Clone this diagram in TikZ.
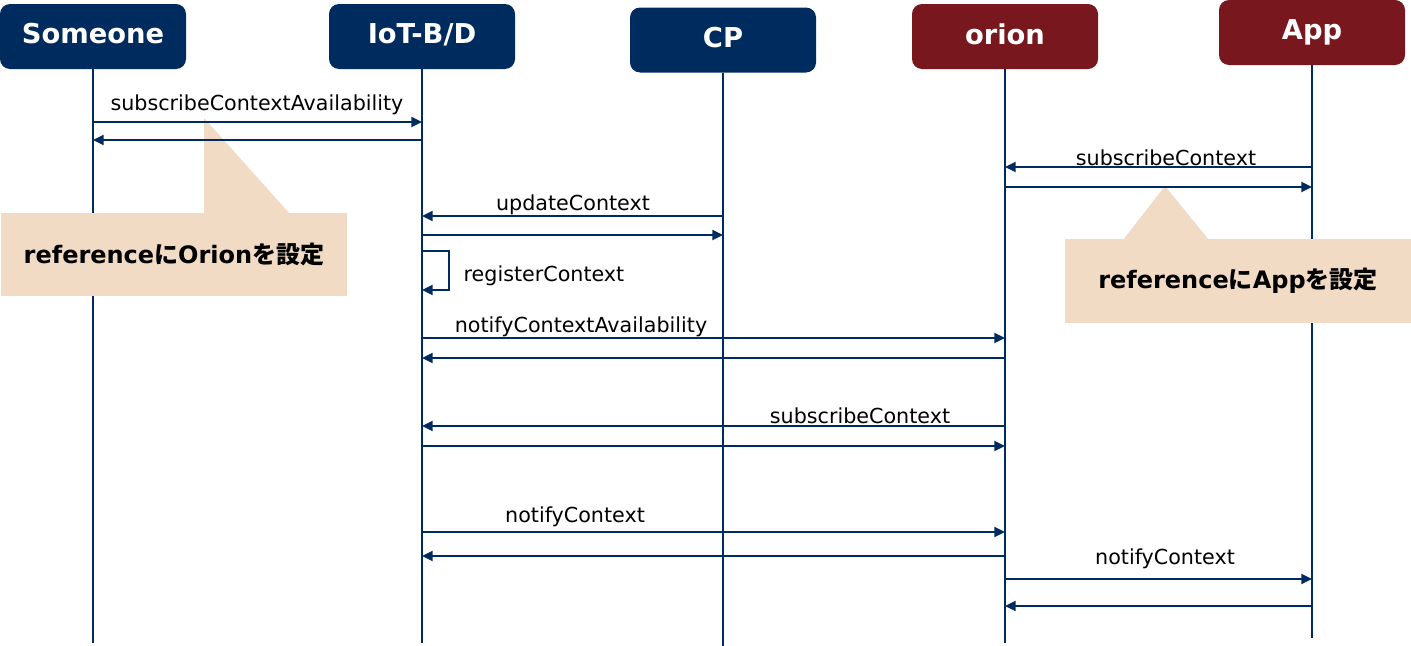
\documentclass[tikz,border=0pt]{standalone}
\usepackage{fontspec}
\setmainfont{DejaVu Sans}
\newfontfamily\jafont{Noto Sans CJK JP}
\usetikzlibrary{arrows.meta}

\definecolor{navy}{RGB}{0,43,94}
\definecolor{wine}{RGB}{120,23,29}
\definecolor{note}{RGB}{241,219,196}

\tikzset{
  actor/.style={rounded corners=7.5pt, minimum width=139.5pt, minimum height=48.75pt,
    inner sep=0pt, text depth=4pt, text=white, font=\bfseries\fontsize{20.5}{24}\selectfont},
  life/.style={draw=navy, line width=1.5pt},
  msg/.style={draw=navy, line width=1.5pt, -{Triangle[length=8pt,width=7.5pt]}},
  lbl/.style={inner sep=0pt, text=black, font=\fontsize{15.5}{18}\selectfont},
  memo/.style={fill=note, minimum width=259.5pt, minimum height=62.5pt, inner sep=0pt,
    font=\bfseries\fontsize{18}{21}\selectfont}
}

\begin{document}
\begin{tikzpicture}[x=0.75pt,y=0.75pt,yscale=-1,xscale=1]
\useasboundingbox (0,0) rectangle (1411,646);

%Actors
\node [actor, fill=navy] (someone) at (93,36.5) {Someone};
\node [actor, fill=navy] (iot) at (422,36.5) {IoT-B/D};
\node [actor, fill=navy] (cp) at (723,40) {CP};
\node [actor, fill=wine] (orion) at (1005,36.5) {orion};
\node [actor, fill=wine] (app) at (1312,32.5) {App};

%Lifelines
\coordinate (someoneEnd) at (93,643);
\coordinate (iotEnd) at (422,643);
\coordinate (cpEnd) at (723,646);
\coordinate (orionEnd) at (1005,643);
\coordinate (appEnd) at (1312,638);
\draw [life] (someone) -- (someoneEnd);
\draw [life] (iot) -- (iotEnd);
\draw [life] (cp) -- (cpEnd);
\draw [life] (orion) -- (orionEnd);
\draw [life] (app) -- (appEnd);

%Callouts
\fill [note] (204,118) -- (204,214) -- (290,214) -- cycle;
\node [memo] (memoOrion) at (174,254.5) {\raisebox{2pt}{reference{\jafont に}Orion{\jafont を設定}}};
\fill [note] (1165,186) -- (1123,240) -- (1209,240) -- cycle;
\node [memo] (memoApp) at (1238,281) {\raisebox{2pt}{reference{\jafont に}App{\jafont を設定}}};

%Messages
\draw [msg] (someone |- 0,122) -- (iot |- 0,122);
\node [lbl] (m1) at (257,105) {subscribeContextAvailability};
\draw [msg] (iot |- 0,140) -- (someone |- 0,140);

\draw [msg] (app |- 0,167) -- (orion |- 0,167);
\node [lbl] (m2) at (1166,158) {subscribeContext};
\draw [msg] (orion |- 0,187) -- (app |- 0,187);

\draw [msg] (cp |- 0,216) -- (iot |- 0,216);
\node [lbl] (m3) at (573,205) {updateContext};
\draw [msg] (iot |- 0,235) -- (cp |- 0,235);

\draw [msg] (iot |- 0,251) -- ++(27,0) -- ++(0,39) -- (iot |- 0,290);
\node [lbl] (m4) at (544,276) {registerContext};

\draw [msg] (iot |- 0,338) -- (orion |- 0,338);
\node [lbl] (m5) at (581,327) {notifyContextAvailability};
\draw [msg] (orion |- 0,358) -- (iot |- 0,358);

\draw [msg] (orion |- 0,426) -- (iot |- 0,426);
\node [lbl] (m6) at (860,416) {subscribeContext};
\draw [msg] (iot |- 0,446) -- (orion |- 0,446);

\draw [msg] (iot |- 0,532) -- (orion |- 0,532);
\node [lbl] (m7) at (575,517) {notifyContext};
\draw [msg] (orion |- 0,556) -- (iot |- 0,556);

\draw [msg] (orion |- 0,579) -- (app |- 0,579);
\node [lbl] (m8) at (1165,559) {notifyContext};
\draw [msg] (app |- 0,606) -- (orion |- 0,606);

\end{tikzpicture}
\end{document}
